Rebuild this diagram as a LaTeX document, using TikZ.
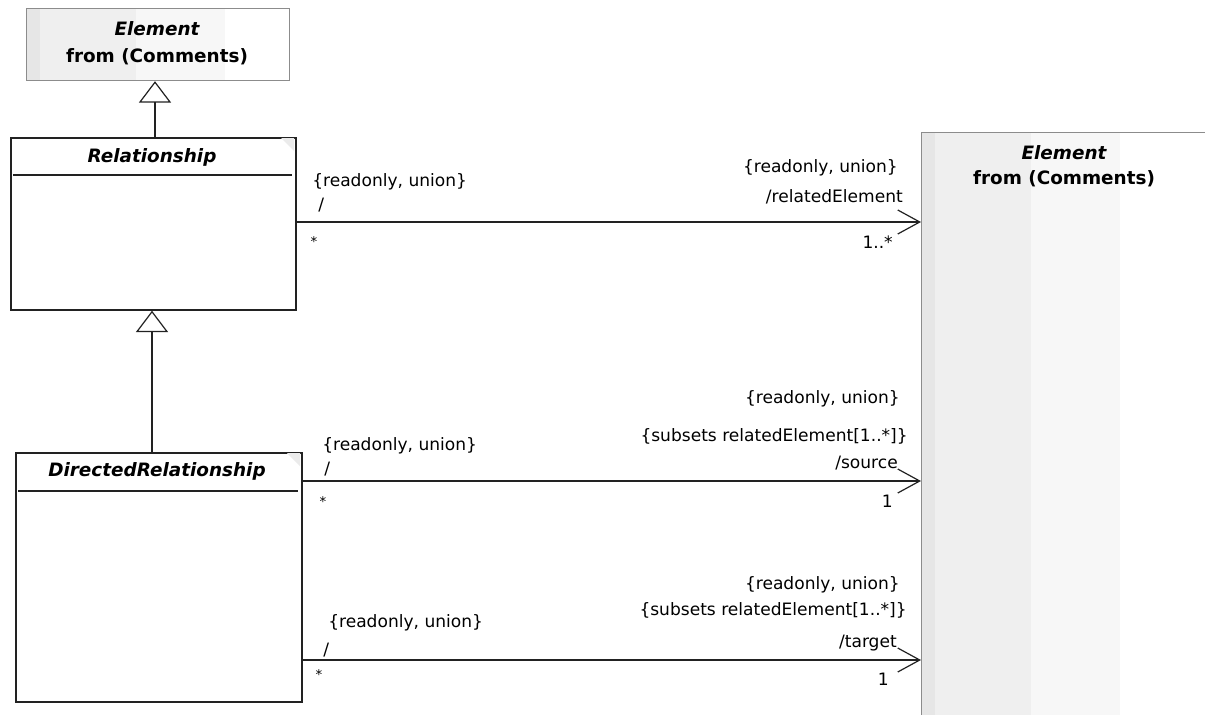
\documentclass[tikz,border=0pt]{standalone}
\usepackage{fontspec}
\setmainfont{DejaVu Sans}
\usetikzlibrary{arrows.meta,calc}
\definecolor{bandA}{HTML}{E6E6E6}
\definecolor{bandB}{HTML}{EFEFEF}
\definecolor{bandC}{HTML}{F7F7F7}
\definecolor{ink}{HTML}{222222}
\definecolor{gborder}{HTML}{8C8C8C}
\begin{document}
\begin{tikzpicture}[x=0.75pt,y=-0.75pt,
  cls/.style={draw=ink, line width=1.3pt, anchor=north west, inner sep=0pt, rectangle},
  elembox/.style={draw=gborder, line width=0.9pt, anchor=north west, inner sep=0pt, rectangle},
  ttl/.style={font=\fontsize{13.8}{16}\selectfont\bfseries\itshape, inner sep=0pt},
  sub/.style={font=\fontsize{13.8}{16}\selectfont\bfseries, inner sep=0pt},
  lbl/.style={font=\fontsize{12.8}{15}\selectfont, inner sep=0pt},
  mult/.style={font=\fontsize{10}{12}\selectfont, inner sep=0pt},
  assoc/.style={draw=ink, line width=1.2pt, -{Straight Barb[length=16.5pt, width=18pt, line width=0.9pt]}},
  gen/.style={draw=ink, line width=1.2pt, -{Triangle[open, length=16pt, width=24pt, line width=0.9pt]}},
  divider/.style={draw=ink, line width=1.2pt},
  corner/.style={fill=black!8, draw=none}
]
\useasboundingbox (0,0) rectangle (1205,714);
\clip (0,0) rectangle (1205,714);
\fill[white] (0,0) rectangle (1205,714);

% ---- top Element box (background bands)
\fill[bandA] (26,8) rectangle (40,80);
\fill[bandB] (40,8) rectangle (136,80);
\fill[bandC] (136,8) rectangle (225,80);
\node[elembox, minimum width=197.25pt, minimum height=54pt] (etop) at (26,8) {};
\node[ttl] (etopname) at (157,29) {Element};
\node[sub] (etopfrom) at (157,57) {from (Comments)};

% ---- right Element box (background bands)
\fill[bandA] (921,132) rectangle (935,800);
\fill[bandB] (935,132) rectangle (1031,800);
\fill[bandC] (1031,132) rectangle (1120,800);
\node[elembox, minimum width=214.5pt, minimum height=501pt] (elem) at (921,132) {};
\node[ttl] (elemname) at (1064,153) {Element};
\node[sub] (elemfrom) at (1064,179) {from (Comments)};

% ---- Relationship
\node[cls, minimum width=213.75pt, minimum height=129pt] (rel) at (10,137) {};
\fill[corner] (281,138) -- (294,138) -- (294,151) -- cycle;
\node[ttl] (relname) at (152,157) {Relationship};
\coordinate (relL) at (13,175);
\coordinate (relR) at (292,175);
\draw[divider] (relL) -- (relR);

% ---- DirectedRelationship
\node[cls, minimum width=214.5pt, minimum height=186.75pt] (dir) at (15,452) {};
\fill[corner] (287,453) -- (300,453) -- (300,466) -- cycle;
\node[ttl] (dirname) at (157,471) {DirectedRelationship};
\coordinate (dirL) at (18,491);
\coordinate (dirR) at (298,491);
\draw[divider] (dirL) -- (dirR);

% ---- generalizations
\coordinate (g1s) at (155,137);
\draw[gen] (g1s) -- (g1s |- etop.south);
\coordinate (g2s) at (152,452);
\draw[gen] (g2s) -- (g2s |- rel.south);

% ---- associations
\coordinate (s1) at ($(rel.north east)+(0,85)$);
\coordinate (s2) at ($(dir.north east)+(0,29)$);
\coordinate (s3) at ($(dir.north east)+(0,208)$);
\draw[assoc] (s1) -- (s1 -| elem.west);
\draw[assoc] (s2) -- (s2 -| elem.west);
\draw[assoc] (s3) -- (s3 -| elem.west);

% association 1 labels
\node[lbl, anchor=west] (a1p) at (312,182) {\{readonly, union\}};
\node[lbl, anchor=west] (a1n) at (318,205) {/};
\node[mult] (a1m) at (314,242) {*};
\node[lbl, anchor=east] (b1p) at (898,168) {\{readonly, union\}};
\node[lbl, anchor=east] (b1n) at (903,197) {/relatedElement};
\node[lbl, anchor=east] (b1m) at (893,242) {1..*};

% association 2 labels
\node[lbl, anchor=west] (a2p) at (322,446) {\{readonly, union\}};
\node[lbl, anchor=west] (a2n) at (324,469) {/};
\node[mult] (a2m) at (323,502) {*};
\node[lbl, anchor=east] (b2p) at (900,399) {\{readonly, union\}};
\node[lbl, anchor=east] (b2s) at (908,436) {\{subsets relatedElement[1..*]\}};
\node[lbl, anchor=east] (b2n) at (898,463) {/source};
\node[lbl, anchor=east] (b2m) at (893,501) {1};

% association 3 labels
\node[lbl, anchor=west] (a3p) at (328,623) {\{readonly, union\}};
\node[lbl, anchor=west] (a3n) at (323,650) {/};
\node[mult] (a3m) at (319,675) {*};
\node[lbl, anchor=east] (b3p) at (900,585) {\{readonly, union\}};
\node[lbl, anchor=east] (b3s) at (907,610) {\{subsets relatedElement[1..*]\}};
\node[lbl, anchor=east] (b3n) at (897,643) {/target};
\node[lbl, anchor=east] (b3m) at (889,679) {1};
\end{tikzpicture}
\end{document}
